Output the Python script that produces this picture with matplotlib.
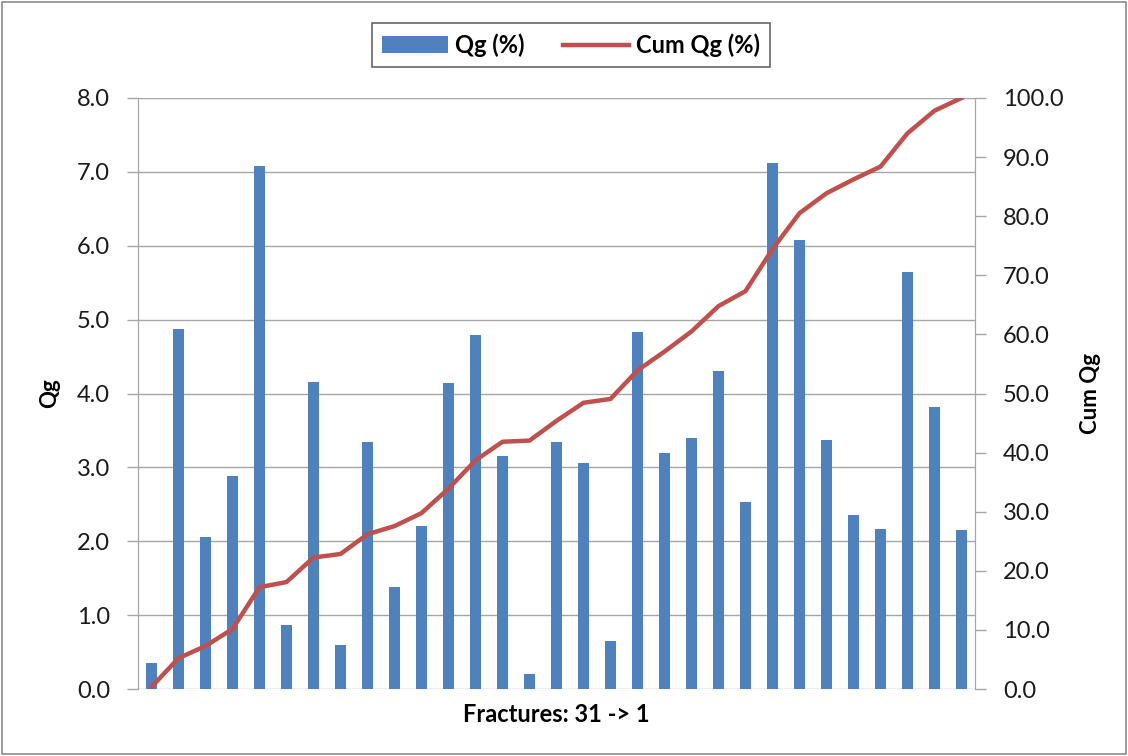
import matplotlib
matplotlib.use('Agg')

import numpy as np
import matplotlib.pyplot as plt
from matplotlib.patches import Rectangle

plt.rcParams['font.family'] = ['Lato', 'DejaVu Sans']

# fractures 31 -> 1, gas production share per fracture (%)
fractures = list(range(31, 0, -1))
qg = [0.35, 4.87, 2.06, 2.88, 7.08, 0.87, 4.15, 0.60, 3.34, 1.38,
      2.20, 4.14, 4.79, 3.15, 0.20, 3.34, 3.06, 0.65, 4.83, 3.19,
      3.40, 4.30, 2.53, 7.12, 6.08, 3.37, 2.35, 2.17, 5.64, 3.82, 2.15]
cum_qg = np.cumsum(qg) / np.sum(qg) * 100.0

bar_color = '#4f81bd'
line_color = '#c0504d'
grid_color = '#a6a6a6'

fig = plt.figure(figsize=(11.28, 7.56), dpi=100)
ax = fig.add_axes([138 / 1128, 1 - 689 / 756, 837 / 1128, 591 / 756])
ax2 = ax.twinx()

x = np.arange(len(qg))
ax.bar(x, qg, width=0.38, color=bar_color, label='Qg (%)', zorder=2)
ax2.plot(x, cum_qg, color=line_color, lw=3.2, label='Cum Qg (%)',
         solid_joinstyle='round')

ax.set_xlim(-0.5, len(qg) - 0.5)
ax.set_ylim(0, 8)
ax2.set_ylim(0, 100)
ax.set_yticks(np.arange(0, 8.01, 1.0))
ax.set_yticklabels(['%.1f' % v for v in np.arange(0, 8.01, 1.0)])
ax2.set_yticks(np.arange(0, 100.1, 10))
ax2.set_yticklabels(['%.1f' % v for v in np.arange(0, 100.1, 10)])
ax.set_xticks([])

ax.grid(axis='y', color=grid_color, lw=1.0, zorder=0)
ax.set_axisbelow(True)

for a in (ax, ax2):
    a.spines['top'].set_visible(False)
    a.spines['bottom'].set_visible(False)
    a.spines['left'].set_color(grid_color)
    a.spines['right'].set_color(grid_color)
    a.tick_params(axis='y', labelsize=17, color=grid_color, length=8,
                  width=1.0, labelcolor='#1a1a1a')
ax.tick_params(axis='y', pad=12)
ax2.tick_params(axis='y', pad=12)

ax.set_ylabel('Qg', fontsize=16, fontweight='bold', labelpad=12)
ax2.set_ylabel('Cum Qg', fontsize=16, fontweight='bold', labelpad=12)
ax.set_xlabel('Fractures: 31 -> 1', fontsize=17, fontweight='bold',
              labelpad=10)

h1, l1 = ax.get_legend_handles_labels()
h2, l2 = ax2.get_legend_handles_labels()
leg = fig.legend(h1 + h2, l1 + l2, loc='center',
                 bbox_to_anchor=(571 / 1128, 1 - 45 / 756), ncol=2,
                 frameon=True, fancybox=False,
                 prop={'weight': 'bold', 'size': 17},
                 handlelength=2.8, handletextpad=0.3, columnspacing=1.6,
                 borderpad=0.45, borderaxespad=0)
leg.get_frame().set_edgecolor('#404040')
leg.get_frame().set_linewidth(1.2)

fig.patches.append(Rectangle((0.002, 0.002), 0.996, 0.996,
                             transform=fig.transFigure, fill=False,
                             edgecolor='#8c8c8c', lw=1.2))

fig.savefig('out.png', dpi=100)
